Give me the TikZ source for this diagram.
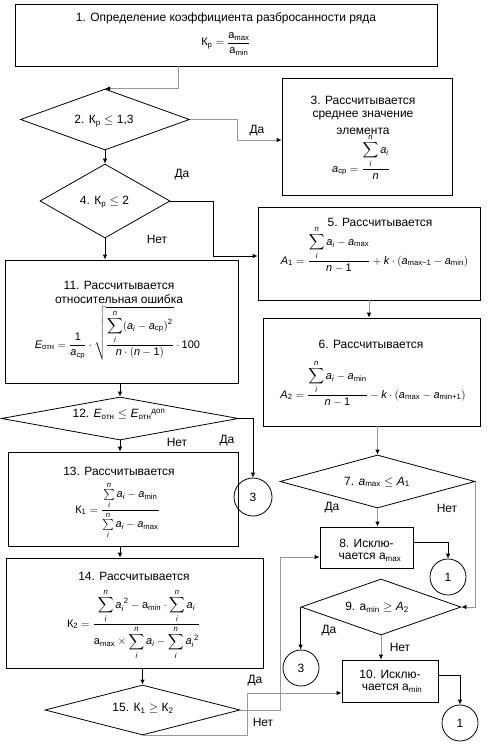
\documentclass[tikz,border=0pt]{standalone}
\usepackage{amsmath}
\usepackage{fontspec}
\setmainfont{Liberation Sans}
\usetikzlibrary{shapes.geometric,arrows.meta}
\newcommand{\ia}{\textit{a}}
\newcommand{\ra}{\text{a}}
\newcommand{\iA}{\textit{A}}
\newcommand{\iE}{\textit{E}}
\newcommand{\ik}{\textit{k}}
\newcommand{\iin}{\textit{n}}
\newcommand{\ii}{\textit{i}}
\newcommand{\sbs}[1]{_{\text{#1}}}
\newcommand{\tx}[1]{\text{#1}}
\newcommand{\sumD}{\displaystyle\sum\limits_{\ii}^{\iin}}
\newcommand{\sumT}{\sum\limits_{\ii}^{\iin}}
\begin{document}
\begin{tikzpicture}[x=1pt,y=-1pt, font=\fontsize{12}{14}\selectfont,
 box/.style={draw, line width=0.8pt, rectangle, inner sep=0},
 dia/.style={draw, line width=0.8pt, diamond, inner sep=0},
 circ/.style={draw, line width=0.8pt, circle, inner sep=0, minimum size=36pt},
 lbl/.style={inner sep=0},
 fml/.style={inner sep=0, anchor=base, font=\fontsize{11}{13}\selectfont},
 conn/.style={line width=0.8pt, draw=black, -{Latex[length=5pt,width=4.5pt]}},
 gconn/.style={line width=0.8pt, draw=gray!80, -{Latex[length=5pt,width=4.5pt,color=black]}}]
\useasboundingbox (0,0) rectangle (487,746);
\fill[white] (0,0) rectangle (487,746);
% boxes
\node[box, minimum width=422pt, minimum height=62pt] (b1) at (226,35) {};
\node[box, minimum width=170pt, minimum height=117pt] (b3) at (367,136.5) {};
\node[box, minimum width=222pt, minimum height=93pt] (b5) at (369,253.5) {};
\node[box, minimum width=217pt, minimum height=108pt] (b6) at (371.5,372) {};
\node[box, minimum width=93pt, minimum height=41pt] (b8) at (366.5,547.5) {};
\node[box, minimum width=96pt, minimum height=42pt] (b10) at (390,681) {};
\node[box, minimum width=233pt, minimum height=123pt] (b11) at (121.5,321.5) {};
\node[box, minimum width=230pt, minimum height=94pt] (b13) at (123,499) {};
\node[box, minimum width=257pt, minimum height=110pt] (b14) at (134.5,613) {};
% diamonds
\node[dia, minimum width=169pt, minimum height=61pt] (d2) at (105,119.5) {};
\node[dia, minimum width=130pt, minimum height=74pt] (d4) at (105,201) {};
\node[dia, minimum width=195pt, minimum height=53pt] (d7) at (377.5,481.5) {};
\node[dia, minimum width=160pt, minimum height=56pt] (d9) at (381,607) {};
\node[dia, minimum width=237pt, minimum height=43pt] (d12) at (120,418.5) {};
\node[dia, minimum width=195pt, minimum height=50pt] (d15) at (142.5,710) {};
% circles
\node[circ, minimum size=38pt] (c3a) at (253,497) {3};
\node[circ] (c1a) at (448,577) {1};
\node[circ] (c3b) at (301,668) {3};
\node[circ] (c1b) at (460,723) {1};
% texts
\node[lbl] (t1) at (226,18) {1. Определение коэффициента разбросанности ряда};
\node[fml] (f1) at (226,46) {$\tx{К}\sbs{р}=\dfrac{\ra\sbs{max}}{\ra\sbs{min}}$};
\node[lbl] (t2) at (104,121) {2. $\tx{К}\sbs{р}\le\tx{1,3}$};
\node[lbl] (t3a) at (363,100) {3. Рассчитывается};
\node[lbl] (t3b) at (363,116) {среднее значение};
\node[lbl] (t3c) at (363,131) {элемента};
\node[fml] (f3) at (361,172) {$\ia\sbs{ср}=\dfrac{\sumD\ia_{\ii}}{\iin}$};
\node[lbl] (t4) at (104.5,202) {4. $\tx{К}\sbs{р}\le\tx{2}$};
\node[lbl] (t5) at (380,222) {5. Рассчитывается};
\node[fml] (f5) at (374.5,264) {$\iA\sbs{1}=\dfrac{\sumD\ia_{\ii}-\ia\sbs{max}}{\iin-\tx{1}}+\ik\cdot(\ia\sbs{max−1}-\ia\sbs{min})$};
\node[lbl] (t6) at (371,344) {6. Рассчитывается};
\node[fml] (f6) at (373,398) {$\iA\sbs{2}=\dfrac{\sumD\ia_{\ii}-\ia\sbs{min}}{\iin-\tx{1}}-\ik\cdot(\ia\sbs{max}-\ia\sbs{min+1})$};
\node[lbl] (t7) at (377,482) {7. $\ia\sbs{max}\le\iA\sbs{1}$};
\node[lbl] (t8a) at (366.5,543) {8. Исклю-};
\node[lbl] (t8b) at (370,557) {чается a$\sbs{max}$};
\node[lbl] (t9) at (377,607) {9. $\ra\sbs{min}\ge\iA\sbs{2}$};
\node[lbl] (t10a) at (390,674) {10. Исклю-};
\node[lbl] (t10b) at (392,688) {чается a$\sbs{min}$};
\node[lbl] (t11a) at (119,285) {11. Рассчитывается};
\node[lbl] (t11b) at (119,299) {относительная ошибка};
\node[fml] (f11) at (117.5,348) {$\iE\sbs{отн}=\dfrac{\tx{1}}{\ia\sbs{ср}}\cdot\sqrt{\dfrac{\sumD(\ia_{\ii}-\ia\sbs{ср})^{\tx{2}}}{\iin\cdot(\iin-\tx{1})}}\cdot\tx{100}$};
\node[lbl] (t12) at (119,414) {12. $\iE\sbs{отн}\le\iE\sbs{отн}{}^{\tx{доп}}$};
\node[lbl] (t13) at (119,471) {13. Рассчитывается};
\node[fml] (f13) at (117.5,513) {$\tx{К}\sbs{1}=\dfrac{\sumT\ia_{\ii}-\ia\sbs{min}}{\sumT\ia_{\ii}-\ia\sbs{max}}$};
\node[lbl] (t14) at (134,576) {14. Рассчитывается};
\node[fml] (f14) at (133.5,627) {$\tx{К}\sbs{2}=\dfrac{\sumD\ia_{\ii}^{\;\tx{2}}-\ra\sbs{min}\cdot\sumD\ia_{\ii}}{\ra\sbs{max}\times\sumD\ia_{\ii}-\sumD\ia_{\ii}^{\;\tx{2}}}$};
\node[lbl] (t15) at (143,708) {15. $\tx{К}\sbs{1}\ge\tx{К}\sbs{2}$};
% branch labels
\node[lbl] (y2) at (257,131) {Да};
\node[lbl] (y4) at (182,175) {Да};
\node[lbl] (n4) at (157,239) {Нет};
\node[lbl] (y7) at (332,508) {Да};
\node[lbl] (n7) at (447,508) {Нет};
\node[lbl] (y9) at (329,631) {Да};
\node[lbl] (n9) at (400,647) {Нет};
\node[lbl] (n12) at (177,442) {Нет};
\node[lbl] (y12) at (227,441) {Да};
\node[lbl] (y15) at (255,681) {Да};
\node[lbl] (n15) at (263,722) {Нет};
% connectors
\draw[gconn] ([xshift=-48pt]b1.south) |- (d2.north);
\draw[gconn] (d2.east) -- ++(47,0) |- ([yshift=-3.5pt]b3.west);
\draw[conn] (d2.south) -- (d4.north);
\draw[conn] (d4.east) -- ++(43,0) |- ([yshift=-2.5pt]b5.west);
\draw[conn] (d4.south) -- (d4.south |- b11.north);
\draw[gconn] (b5.south) -- (b5.south |- b6.north);
\draw[gconn] (d7.north |- b6.south) -- (d7.north);
\draw[gconn] (d7.south) -- (d7.south |- b8.north);
\draw[gconn] (d7.east) |- (d9.east);
\draw[conn] ([yshift=5.5pt]b8.east) -| (c1a.north);
\draw[conn] (d9.west) -- (d9.west |- c3b.north);
\draw[gconn] (d9.south) -- (d9.south |- b10.north);
\draw[conn] ([yshift=6pt]b10.east) -| (c1b.north);
\draw[conn] (d12.north |- b11.south) -- (d12.north);
\draw[conn] (d12.east) -| (c3a.north);
\draw[conn] (d12.south) -- (d12.south |- b13.north);
\draw[conn] (d12.south |- b13.south) -- (d12.south |- b14.north);
\draw[conn] (d15.north |- b14.south) -- (d15.north);
\draw[gconn] (d15.east) -- ++(40,0) |- ([yshift=-9.5pt]b8.west);
\draw[gconn] (d15.south) -- ++(105,0) |- ([yshift=-12pt]b10.west);
\end{tikzpicture}
\end{document}
